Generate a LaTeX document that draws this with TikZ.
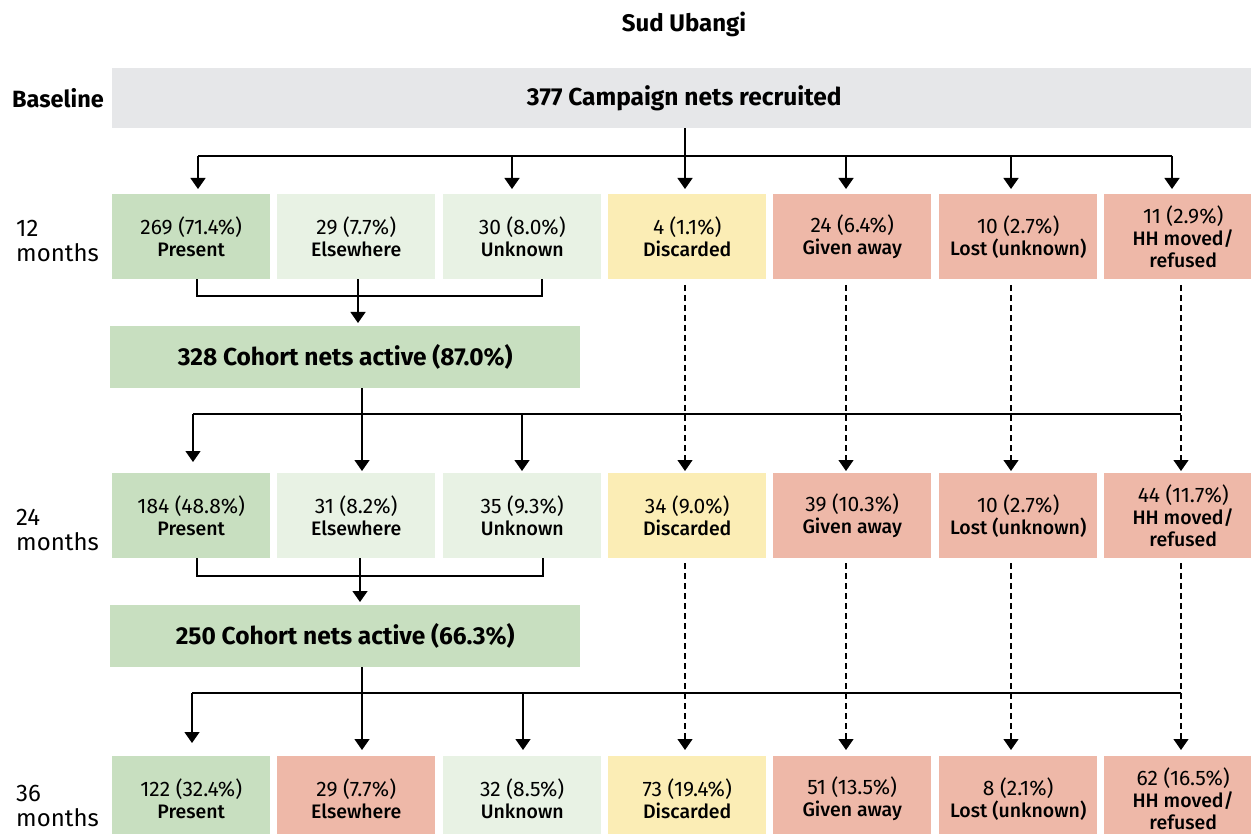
\documentclass[tikz,border=0pt]{standalone}
\usepackage{fontspec}
\setmainfont{Fira Sans}
\newfontfamily\labfont{Fira Sans Medium}
\usetikzlibrary{arrows.meta}
\definecolor{cgray}{HTML}{E6E7E9}
\definecolor{cgreen}{HTML}{C8DFC0}
\definecolor{clgreen}{HTML}{E8F2E4}
\definecolor{cyellow}{HTML}{FBEDB5}
\definecolor{csalmon}{HTML}{EEB8A8}
\newcommand{\lab}[1]{{\labfont\fontsize{19.5}{22}\selectfont #1}}
\begin{document}
\begin{tikzpicture}[x=1pt,y=-1pt,
  box/.style={anchor=north west, minimum width=158pt, minimum height=85pt, inner sep=0pt, align=center, font=\fontsize{21}{22}\selectfont, text=black, execute at begin node={\vspace*{5pt}}},
  bigbox/.style={anchor=north west, inner sep=0pt, font=\bfseries\fontsize{24.5}{28}\selectfont},
  ln/.style={line width=1.4pt, black},
  conn/.style={line width=1.4pt, black, -{Triangle[width=15pt,length=11pt]}},
  dconn/.style={line width=1.1pt, black, dash pattern=on 6pt off 4pt, -{Triangle[width=15pt,length=11pt]}},
  rowlab/.style={anchor=west, align=left, font=\fontsize{24}{25}\selectfont, inner sep=0pt},
]
\clip (0,0) rectangle (1251,834);
\fill[white] (0,0) rectangle (1251,834);

% title and labels
\node[font=\bfseries\fontsize{24}{28}\selectfont] (title) at (684,24) {Sud Ubangi};
\node[anchor=west, inner sep=0pt, font=\bfseries\fontsize{23.5}{28}\selectfont] (lbase) at (12,98) {Baseline};
\node[rowlab] (l12) at (16,241) {12\\months};
\node[rowlab] (l24) at (16,530) {24\\months};
\node[rowlab] (l36) at (16,806) {36\\months};

% baseline
\node[bigbox, fill=cgray, minimum width=1144pt, minimum height=60pt] (base) at (112,68) {377 Campaign nets recruited};

% 12 months
\node[box, fill=cgreen]  (a1) at (112,194) {269 (71.4\%)\\\lab{Present}};
\node[box, fill=clgreen] (a2) at (277,194) {29 (7.7\%)\\\lab{Elsewhere}};
\node[box, fill=clgreen] (a3) at (443,194) {30 (8.0\%)\\\lab{Unknown}};
\node[box, fill=cyellow] (a4) at (608,194) {4 (1.1\%)\\\lab{Discarded}};
\node[box, fill=csalmon] (a5) at (773,194) {24 (6.4\%)\\\lab{Given away}};
\node[box, fill=csalmon] (a6) at (939,194) {10 (2.7\%)\\\lab{Lost (unknown)}};
\node[box, fill=csalmon] (a7) at (1104,194) {11 (2.9\%)\\\lab{HH moved/}\\\lab{refused}};

\node[bigbox, fill=cgreen, minimum width=470pt, minimum height=62pt] (c1) at (110,326) {328 Cohort nets active (87.0\%)};

% 24 months
\node[box, fill=cgreen]  (b1) at (112,473) {184 (48.8\%)\\\lab{Present}};
\node[box, fill=clgreen] (b2) at (277,473) {31 (8.2\%)\\\lab{Elsewhere}};
\node[box, fill=clgreen] (b3) at (443,473) {35 (9.3\%)\\\lab{Unknown}};
\node[box, fill=cyellow] (b4) at (608,473) {34 (9.0\%)\\\lab{Discarded}};
\node[box, fill=csalmon] (b5) at (773,473) {39 (10.3\%)\\\lab{Given away}};
\node[box, fill=csalmon] (b6) at (939,473) {10 (2.7\%)\\\lab{Lost (unknown)}};
\node[box, fill=csalmon] (b7) at (1104,473) {44 (11.7\%)\\\lab{HH moved/}\\\lab{refused}};

\node[bigbox, fill=cgreen, minimum width=470pt, minimum height=62pt] (c2) at (110,605) {250 Cohort nets active (66.3\%)};

% 36 months
\node[box, fill=cgreen]  (d1) at (112,756) {122 (32.4\%)\\\lab{Present}};
\node[box, fill=csalmon] (d2) at (277,756) {29 (7.7\%)\\\lab{Elsewhere}};
\node[box, fill=clgreen] (d3) at (443,756) {32 (8.5\%)\\\lab{Unknown}};
\node[box, fill=cyellow] (d4) at (608,756) {73 (19.4\%)\\\lab{Discarded}};
\node[box, fill=csalmon] (d5) at (773,756) {51 (13.5\%)\\\lab{Given away}};
\node[box, fill=csalmon] (d6) at (939,756) {8 (2.1\%)\\\lab{Lost (unknown)}};
\node[box, fill=csalmon] (d7) at (1104,756) {62 (16.5\%)\\\lab{HH moved/}\\\lab{refused}};

% ---- baseline split
\coordinate (j0) at (685,156);
\coordinate (h0l) at (198,156);
\coordinate (h0r) at (1172,156);
\draw[ln] (j0 |- base.south) -- (j0);
\draw[ln] (h0l) -- (h0r);
\foreach \x in {198,512,685,846,1011,1172}{
  \draw[conn] (\x,156) -- (\x,189);
}

% ---- merge 12 -> cohort 1
\coordinate (m1l) at (197,296);
\coordinate (m1r) at (542,296);
\coordinate (m1c) at (358,296);
\draw[ln] (m1l |- a1.south) -- (m1l) -- (m1r) -- (m1r |- a3.south);
\draw[conn] (m1c |- a2.south) -- ([yshift=3pt]m1c |- c1.north);

% ---- split cohort 1 -> 24
\coordinate (s1c) at (362,414);
\coordinate (s1l) at (193,414);
\coordinate (s1r) at (1181,414);
\draw[ln] (s1l) -- (s1r);
\draw[conn] (s1c |- c1.south) -- (362,471);
\draw[conn] (s1l) -- (193,462);
\draw[conn] (522,414) -- (522,471);
\foreach \x in {685,846,1011,1181}{
  \draw[dconn] (\x,285) -- (\x,471);
}

% ---- merge 24 -> cohort 2
\coordinate (m2l) at (197,576);
\coordinate (m2r) at (543,576);
\coordinate (m2c) at (360,576);
\draw[ln] (m2l |- b1.south) -- (m2l) -- (m2r) -- (m2r |- b3.south);
\draw[conn] (m2c |- b2.south) -- ([yshift=3pt]m2c |- c2.north);

% ---- split cohort 2 -> 36
\coordinate (s2c) at (362,693);
\coordinate (s2l) at (192,693);
\coordinate (s2r) at (1181,693);
\draw[ln] (s2l) -- (s2r);
\draw[conn] (s2c |- c2.south) -- (362,750);
\draw[conn] (s2l) -- (192,743);
\draw[conn] (523,693) -- (523,750);
\foreach \x in {685,846,1011,1181}{
  \draw[dconn] (\x,563) -- (\x,750);
}
\end{tikzpicture}
\end{document}
